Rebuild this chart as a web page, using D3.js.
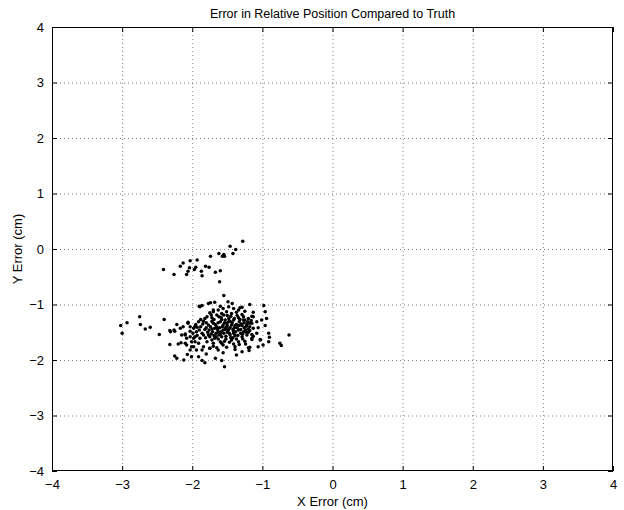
<!DOCTYPE html>
<html><head><meta charset="utf-8">
<script src="https://cdn.jsdelivr.net/npm/d3@7"></script>
<style>body{margin:0;background:#fff;} text{font-family:"Liberation Sans",Arial,Helvetica,sans-serif;}</style>
</head><body><svg id="c" width="624" height="510"></svg>
<script>
const title = "Error in Relative Position Compared to Truth";
const xLabel = "X Error (cm)";
const yLabel = "Y Error (cm)";
const xTicks = [-4,-3,-2,-1,0,1,2,3,4];
const yTicks = [-4,-3,-2,-1,0,1,2,3,4];
const upperCluster = [[-1.28,0.14],[-1.46,0.05],[-1.38,-0.01],[-1.42,-0.08],[-1.62,-0.08],[-1.55,-0.10],[-1.57,-0.13],[-1.54,-0.13],[-1.74,-0.13],[-1.93,-0.20],[-2.03,-0.21],[-2.13,-0.25],[-2.17,-0.31],[-2.04,-0.34],[-1.95,-0.33],[-1.97,-0.37],[-1.81,-0.31],[-1.76,-0.33],[-2.41,-0.37],[-2.06,-0.40],[-1.87,-0.40],[-1.60,-0.39],[-1.67,-0.42],[-2.26,-0.46],[-2.08,-0.46],[-1.86,-0.48],[-1.61,-0.59]];
const mainLeft = [[-2.75,-1.22],[-2.40,-1.27],[-2.93,-1.33],[-3.02,-1.38],[-2.74,-1.36],[-2.60,-1.41],[-2.67,-1.44],[-2.22,-1.36],[-2.06,-1.32],[-2.32,-1.47],[-2.26,-1.46],[-2.17,-1.43],[-2.03,-1.40],[-1.96,-1.39],[-1.93,-1.41],[-1.90,-1.03],[-3.00,-1.52],
[-2.47,-1.54],[-2.32,-1.72],[-2.20,-1.71],[-2.16,-1.69],[-2.25,-1.93],[-2.22,-1.97],[-2.31,-1.49],[-2.25,-1.48],[-2.15,-1.55],[-2.10,-1.53],[-2.03,-1.58],[-1.98,-1.61],[-2.08,-1.73],[-2.01,-1.76],[-2.03,-1.82],[-1.96,-1.67],[-2.07,-1.90],[-2.01,-1.94],[-2.12,-2.00],[-1.94,-1.82],[-1.91,-1.94]];
const mainTopRight = [[-1.55,-0.84],[-1.68,-0.96],[-1.77,-0.98],[-1.74,-0.97],[-1.49,-0.95],[-1.43,-0.98],[-1.86,-1.02],[-1.18,-1.00],[-0.98,-1.02],[-1.60,-1.03],[-1.56,-1.07],[-1.29,-1.05],[-1.34,-1.10],[-1.13,-1.14],[-1.15,-1.21],[-1.25,-1.28],[-1.18,-1.34],[-1.70,-1.10],[-1.75,-1.15],
[-1.13,-1.57],[-1.15,-1.63],[-0.90,-1.59],[-1.03,-1.64],[-0.75,-1.70],[-0.73,-1.74],[-0.62,-1.55],[-0.99,-1.73],[-1.18,-1.77],[-1.19,-1.83],[-1.29,-1.85],[-1.39,-1.81],[-1.37,-1.91],[-1.56,-1.87],[-1.58,-1.70],[-1.51,-1.77],[-1.70,-1.75],[-1.75,-1.79],[-1.63,-1.82],[-1.80,-1.89],[-1.86,-1.82],[-1.86,-2.01],[-1.82,-2.05],[-1.58,-2.01],[-1.54,-2.12],[-1.67,-1.97]];
const coreWest = [[-1.89,-1.04],[-1.70,-1.13],[-1.63,-1.10],[-1.58,-1.16],[-1.79,-1.22],[-1.72,-1.24],[-1.91,-1.31],[-1.84,-1.30],[-2.06,-1.34],[-2.13,-1.40],[-1.98,-1.43],[-2.03,-1.48],[-1.94,-1.49],[-1.77,-1.37],[-1.70,-1.34],[-1.65,-1.40],[-1.60,-1.31],[-1.56,-1.37],[-1.72,-1.44],[-1.63,-1.49],[-1.56,-1.46],[-1.84,-1.55],[-1.75,-1.58],[-1.68,-1.61],[-1.58,-1.58],[-1.89,-1.61],[-1.96,-1.58],[-2.10,-1.55],[-2.08,-1.61],[-2.01,-1.67],[-1.91,-1.70],[-1.79,-1.67],[-1.70,-1.70],[-1.60,-1.67],[-1.56,-1.73],[-1.84,-1.76],[-1.75,-1.79],[-1.65,-1.78],[-1.98,-1.76],[-2.10,-1.70],
[-1.82,-1.45],[-1.88,-1.40],[-1.66,-1.52],[-1.78,-1.50],[-1.60,-1.53],[-1.69,-1.27],[-1.62,-1.22],[-1.80,-1.42],[-1.73,-1.53],[-1.52,-1.62]];
const coreEast = [[-1.48,-1.04],[-1.41,-1.07],[-1.32,-1.06],[-1.51,-1.13],[-1.44,-1.16],[-1.37,-1.14],[-1.29,-1.18],[-1.25,-1.12],[-1.48,-1.25],[-1.41,-1.28],[-1.34,-1.24],[-1.27,-1.28],[-1.20,-1.25],[-1.13,-1.22],[-1.51,-1.34],[-1.44,-1.37],[-1.37,-1.36],[-1.29,-1.38],[-1.22,-1.36],[-1.15,-1.34],[-1.08,-1.31],[-1.01,-1.28],[-1.48,-1.44],[-1.41,-1.48],[-1.34,-1.46],[-1.27,-1.49],[-1.20,-1.44],[-1.13,-1.43],[-1.06,-1.42],[-0.96,-1.38],[-1.46,-1.55],[-1.39,-1.56],[-1.29,-1.58],[-1.22,-1.55],[-1.15,-1.54],[-1.08,-1.52],[-1.44,-1.64],[-1.34,-1.67],[-1.25,-1.66],[-1.15,-1.61],[-1.03,-1.63],[-0.91,-1.67],[-1.39,-1.76],[-1.20,-1.78],[-1.06,-1.76],[-0.96,-1.13],[-0.94,-1.25],[-0.91,-1.52],
[-1.52,-1.41],[-1.46,-1.30],[-1.40,-1.42],[-1.33,-1.31],[-1.26,-1.42],[-1.31,-1.52],[-1.50,-1.50],[-1.36,-1.20],[-1.45,-1.21],[-1.23,-1.50],[-1.18,-1.40],[-1.53,-1.28],[-1.42,-1.60],[-1.28,-1.62]];
const coreDense = [[-1.95,-1.36],[-1.90,-1.46],[-1.86,-1.52],[-1.85,-1.35],[-1.80,-1.33],[-1.76,-1.46],[-1.74,-1.40],[-1.72,-1.30],[-1.71,-1.49],[-1.68,-1.43],[-1.67,-1.36],[-1.66,-1.58],[-1.64,-1.45],[-1.63,-1.33],[-1.62,-1.55],[-1.61,-1.42],[-1.59,-1.49],[-1.58,-1.27],[-1.57,-1.40],[-1.55,-1.52],[-1.54,-1.33],[-1.53,-1.45],[-1.52,-1.57],[-1.50,-1.38],[-1.49,-1.47],[-1.48,-1.31],[-1.47,-1.52],[-1.46,-1.42],[-1.45,-1.60],[-1.43,-1.33],[-1.42,-1.45],[-1.41,-1.52],[-1.40,-1.25],[-1.39,-1.38],[-1.38,-1.49],[-1.36,-1.42],[-1.35,-1.56],[-1.33,-1.38],[-1.32,-1.27],[-1.31,-1.45],[-1.30,-1.35],[-1.28,-1.53],[-1.27,-1.22],[-1.26,-1.33],[-1.24,-1.46],[-1.23,-1.39],[-1.21,-1.31],[-1.20,-1.50],[-1.18,-1.47],[-1.16,-1.29],[-1.65,-1.19],[-1.59,-1.23],[-1.55,-1.19],[-1.50,-1.20],[-1.73,-1.19],[-1.82,-1.25],[-1.88,-1.27],[-1.99,-1.52],[-1.93,-1.56],[-1.81,-1.60],[-1.72,-1.64],[-1.63,-1.62],[-1.54,-1.66],[-1.47,-1.68],[-1.37,-1.62],[-1.33,-1.72],[-1.24,-1.71],[-1.41,-1.71],[-1.69,-1.56],[-1.77,-1.55]];

const W = 624, H = 510;
const L = 52, R = 613, T = 27, B = 471;
const svg = d3.select("#c");
const x = d3.scaleLinear().domain([-4,4]).range([L,R]);
const y = d3.scaleLinear().domain([-4,4]).range([B,T]);
const fmt = d3.format("d");

svg.append("rect").attr("x",L).attr("y",T).attr("width",R-L).attr("height",B-T).attr("fill","#fff");

// grid
const grid = svg.append("g");
grid.selectAll(".gx").data(xTicks.filter(d=>d>-4&&d<4)).join("line")
  .attr("x1",d=>x(d)+0.5).attr("x2",d=>x(d)+0.5).attr("y1",T).attr("y2",B)
  .attr("stroke","#000").attr("stroke-width",1).attr("stroke-dasharray","1,3").attr("stroke-opacity",0.5);
grid.selectAll(".gy").data(yTicks.filter(d=>d>-4&&d<4)).join("line")
  .attr("y1",d=>y(d)+0.5).attr("y2",d=>y(d)+0.5).attr("x1",L).attr("x2",R)
  .attr("stroke","#000").attr("stroke-width",1).attr("stroke-dasharray","1,3").attr("stroke-opacity",0.5);

// points
const all = [upperCluster, mainLeft, mainTopRight, coreWest, coreEast, coreDense];
all.forEach(arr => {
  svg.append("g").selectAll("circle").data(arr).join("circle")
    .attr("cx",d=>x(d[0])).attr("cy",d=>y(d[1])).attr("r",1.75).attr("fill","#000");
});

// axes (ticks inward, on all sides)
const tl = 5;
const axB = svg.append("g").attr("transform",`translate(0,${B})`)
  .call(d3.axisBottom(x).tickValues(xTicks).tickFormat(fmt).tickSizeInner(-tl).tickSizeOuter(0).tickPadding(9));
const axL = svg.append("g").attr("transform",`translate(${L},0)`)
  .call(d3.axisLeft(y).tickValues(yTicks).tickFormat(fmt).tickSizeInner(-tl).tickSizeOuter(0).tickPadding(8));
const axT = svg.append("g").attr("transform",`translate(0,${T})`)
  .call(d3.axisTop(x).tickValues(xTicks).tickFormat("").tickSizeInner(-tl).tickSizeOuter(0));
const axR = svg.append("g").attr("transform",`translate(${R},0)`)
  .call(d3.axisRight(y).tickValues(yTicks).tickFormat("").tickSizeInner(-tl).tickSizeOuter(0));
[axB,axL,axT,axR].forEach(a=>{
  a.select(".domain").remove();
  a.selectAll("line").attr("stroke","#000");
  a.selectAll("text").attr("font-size",13).attr("fill","#000").attr("font-family","'Liberation Sans',Arial,sans-serif");
});
svg.append("rect").attr("x",L+0.5).attr("y",T+0.5).attr("width",R-L-1).attr("height",B-T-1)
  .attr("fill","none").attr("stroke","#000").attr("stroke-width",1);

svg.append("text").attr("x",(L+R)/2).attr("y",T-9).attr("text-anchor","middle")
  .attr("font-size",12.5).text(title);
svg.append("text").attr("x",(L+R)/2).attr("y",506).attr("text-anchor","middle")
  .attr("font-size",13).text(xLabel);
svg.append("text").attr("transform",`translate(22,${(T+B)/2}) rotate(-90)`).attr("text-anchor","middle")
  .attr("font-size",13).text(yLabel);
</script></body></html>
